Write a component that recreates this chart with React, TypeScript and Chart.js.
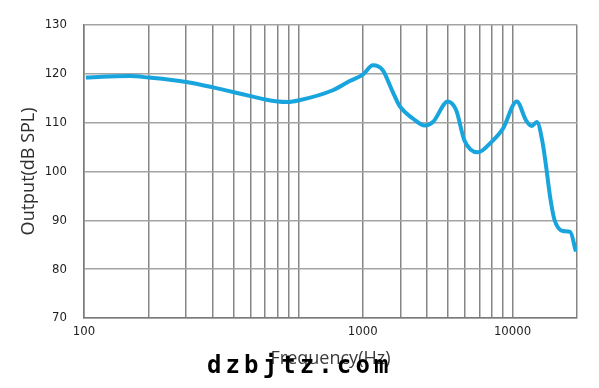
import React, { useEffect, useRef } from "react";
import { Chart, registerables } from "chart.js";

Chart.register(...registerables);

// Frequency response (Hz -> dB SPL)
const frequencies = [
  102, 130, 164, 200, 300, 400, 500, 600, 700, 800, 900, 1000, 1450, 1740, 2000,
  2230, 2480, 2720, 2970, 3195, 3430, 3890, 4250, 4990, 5460, 5970, 6890, 7960, 9010, 10470,
  11580, 12300, 12990, 13840, 14360, 14990, 15700, 17160, 18580, 19770,
];
const outputDb = [
  119.2, 119.4, 119.5, 119.2, 118.3, 117.2, 116.2, 115.4, 114.7, 114.3, 114.2, 114.5, 116.6, 118.5, 119.8,
  121.7, 120.7, 116.9, 113.4, 111.9, 110.8, 109.4, 110.1, 114.3, 112.5, 106.3, 103.9, 106.0, 108.7, 114.3,
  110.4, 109.3, 110.1, 105.7, 100.9, 94.7, 90.1, 87.8, 87.6, 83.6,
];

// Vertical grid lines (log decades) and tick labels as printed on the reference
const xGridValues = [
  100, 200, 300, 400, 500, 600, 700, 800, 900,
  1000, 2000, 3000, 4000, 5000, 6000, 7000, 8000, 9000,
  10000, 20000,
];
const xTickValues = [100, 2000, 10000];
const xTickTexts = ["100", "1000", "10000"];
const yTickValues = [70, 80, 90, 100, 110, 120, 130];

const X_MIN = 100;
const X_MAX = 20000;
const Y_MIN = 70;
const Y_MAX = 130;

const xTitle = "Frequency(Hz)";
const yTitle = "Output(dB SPL)";
const watermark = "dzbjtz.com";

const watermarkPlugin = {
  id: "watermark",
  afterDraw(chart: any) {
    const ctx = chart.ctx;
    ctx.save();
    ctx.font = 'bold 24px "DejaVu Sans Mono", monospace';
    try {
      (ctx as any).letterSpacing = "4.1px";
    } catch (e) {}
    ctx.fillStyle = "#000";
    ctx.textAlign = "left";
    ctx.textBaseline = "alphabetic";
    ctx.fillText(watermark, 207, 373);
    ctx.restore();
  },
};

export default function App() {
  const ref = useRef<HTMLCanvasElement | null>(null);

  useEffect(() => {
    if (!ref.current) return;
    const chart = new Chart(ref.current, {
      type: "line",
      data: {
        datasets: [
          {
            data: frequencies.map((f, i) => ({ x: f, y: outputDb[i] })),
            borderColor: "#18a4dd",
            borderWidth: 4,
            pointRadius: 0,
            cubicInterpolationMode: "monotone",
            fill: false,
          },
        ],
      },
      options: {
        animation: false,
        responsive: false,
        events: [],
        layout: { padding: { top: 24, right: 22, left: 0, bottom: 0 } },
        plugins: {
          legend: { display: false },
          tooltip: { enabled: false },
        },
        scales: {
          x: {
            type: "logarithmic",
            min: X_MIN,
            max: X_MAX,
            afterFit: (s: any) => {
              s.height = 70;
            },
            afterBuildTicks: (s: any) => {
              s.ticks = xGridValues.map((v) => ({ value: v }));
            },
            grid: {
              color: "#858585",
              lineWidth: 1.5,
              drawTicks: false,
            },
            border: { color: "#7a7a7a", width: 1.5 },
            ticks: {
              autoSkip: false,
              maxRotation: 0,
              padding: 6,
              color: "#1e1e1e",
              font: { family: '"DejaVu Sans Condensed", "DejaVu Sans", sans-serif', size: 13 },
              callback: (v: any) => {
                const idx = xTickValues.indexOf(Number(v));
                return idx >= 0 ? xTickTexts[idx] : "";
              },
            },
            title: {
              display: true,
              text: xTitle,
              color: "#3a3a3a",
              font: { family: '"Open Sans", sans-serif', size: 18 },
              padding: { top: 0, bottom: 18 },
            },
          },
          y: {
            type: "linear",
            min: Y_MIN,
            max: Y_MAX,
            afterFit: (s: any) => {
              s.width = 84;
            },
            afterBuildTicks: (s: any) => {
              s.ticks = yTickValues.map((v) => ({ value: v }));
            },
            grid: {
              color: "#a3a3a3",
              lineWidth: 1.5,
              drawTicks: false,
            },
            border: { color: "#7a7a7a", width: 1.5 },
            ticks: {
              padding: 17,
              color: "#1e1e1e",
              font: { family: '"DejaVu Sans Condensed", "DejaVu Sans", sans-serif', size: 13 },
            },
            title: {
              display: true,
              text: yTitle,
              color: "#2e2e2e",
              font: { family: '"Open Sans", sans-serif', size: 18 },
              padding: { top: 18, bottom: 0 },
            },
          },
        },
      },
      plugins: [watermarkPlugin],
    } as any);
    return () => chart.destroy();
  }, []);

  return (
    <div style={{ position: "fixed", left: 0, top: 0, width: 599, height: 388, background: "#fff" }}>
      <canvas ref={ref} width={599} height={388} style={{ display: "block" }} />
    </div>
  );
}
